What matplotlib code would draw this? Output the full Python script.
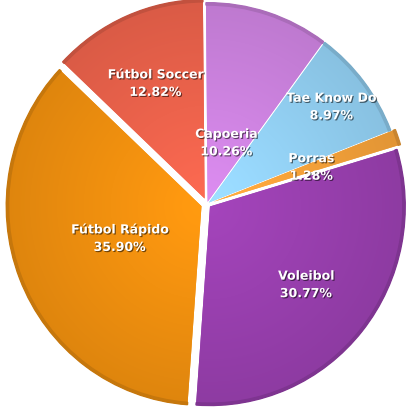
import numpy as np
import matplotlib
matplotlib.use("Agg")
import matplotlib.pyplot as plt
import matplotlib.patheffects as pe
from matplotlib.patches import Wedge
from matplotlib.colors import to_rgb

# data, clockwise from 12 o'clock
sports = ["Capoeria", "Tae Know Do", "Porras", "Voleibol", "Fútbol Rápido", "Fútbol Soccer"]
percent = [10.26, 8.97, 1.28, 30.77, 35.90, 12.82]
colors = ["#cf84e2", "#94d2f5", "#f5a23a", "#9a40b0", "#f2910f", "#ed634c"]
explode = [0.012, 0.012, 0.035, 0.02, 0.03, 0.03]
label_r = [0.31, 0.79, 0.53, 0.63, 0.45, 0.63]  # where each label sits, as a fraction of the radius

fig = plt.figure(figsize=(4.09, 4.09), dpi=100)
ax = fig.add_axes([0, 0, 1, 1])

wedges, _ = ax.pie(percent, colors=colors, explode=explode, startangle=90.5,
                   counterclock=False, radius=1.0,
                   wedgeprops=dict(linewidth=0))

# radial shading: lighter towards the middle, darker at the rim
n = 300
xs = np.linspace(-1.1, 1.1, n)
X, Y = np.meshgrid(xs, xs)
for w, c in zip(wedges, colors):
    base = np.array(to_rgb(c))
    cx, cy = w.center
    Rw = np.sqrt((X - cx) ** 2 + (Y - cy) ** 2)
    f = 1.07 - 0.15 * np.clip(Rw, 0, 1)
    img = np.clip(base[None, None, :] * f[:, :, None], 0, 1)
    im = ax.imshow(img, extent=(-1.1, 1.1, -1.1, 1.1), origin="lower",
                   interpolation="bilinear", zorder=2, aspect="auto")
    im.set_clip_path(w)
    # darker rim edge to hint at the thickness
    ax.add_patch(Wedge((cx, cy), w.r, w.theta1, w.theta2,
                       width=0.012, color=base * 0.82, zorder=3))

for w, name, p, lr in zip(wedges, sports, percent, label_r):
    mid = np.deg2rad((w.theta1 + w.theta2) / 2)
    cx, cy = w.center
    ax.text(cx + lr * np.cos(mid), cy + lr * np.sin(mid), f"{name}\n{p:.2f}%",
            ha="center", va="center", color="white", fontsize=9, fontweight="bold",
            family="DejaVu Sans", linespacing=1.45, zorder=5,
            path_effects=[pe.SimplePatchShadow(offset=(0.8, -0.8), shadow_rgbFace="black", alpha=0.55),
                          pe.Normal()])

ax.set_xlim(-1.06, 1.035)
ax.set_ylim(-1.03, 1.025)
ax.set_aspect("auto")
ax.axis("off")
fig.savefig("out.png", dpi=100, facecolor="white")
